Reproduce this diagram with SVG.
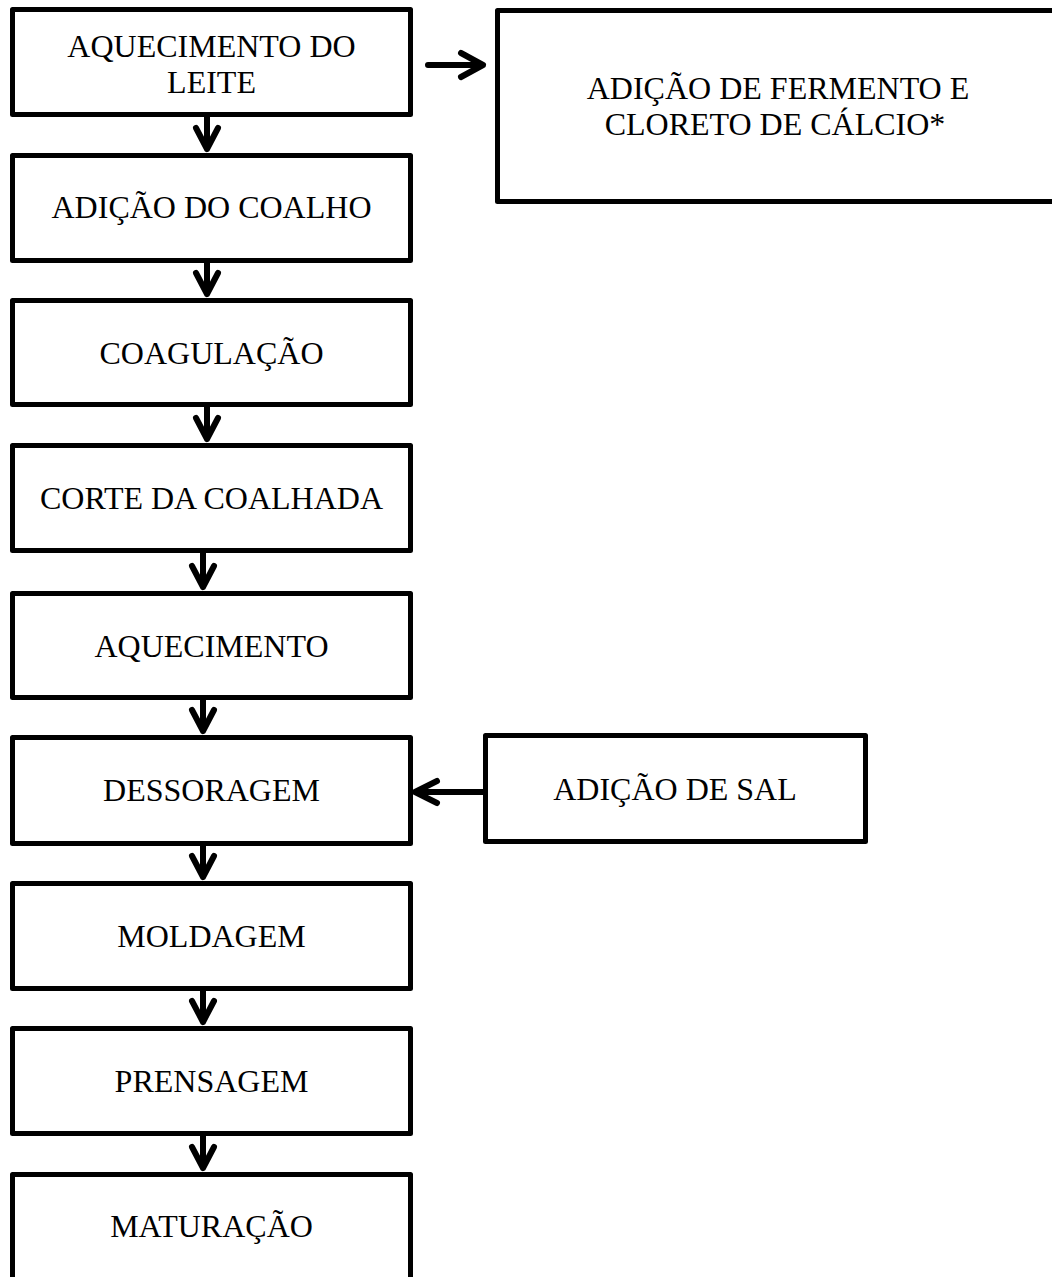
<svg xmlns="http://www.w3.org/2000/svg" width="1052" height="1277" viewBox="0 0 1052 1277">
<style>
.box{fill:#fff;stroke:#000;stroke-width:5;stroke-linejoin:round}
.lbl{font-family:"Liberation Serif","Times New Roman",serif;font-size:32px;fill:#000;text-anchor:middle}
.con path{fill:none;stroke:#000;stroke-width:6;stroke-linecap:round;stroke-linejoin:round}
</style>
<rect width="1052" height="1277" fill="#fff"/>
<g id="n1"><rect class="box" x="12.5" y="9.5" width="398" height="105"/><text class="lbl" x="211.5" y="57">AQUECIMENTO DO</text><text class="lbl" x="211.5" y="93">LEITE</text></g>
<g id="n2"><rect class="box" x="12.5" y="155.5" width="398" height="105"/><text class="lbl" x="211.5" y="218">ADIÇÃO DO COALHO</text></g>
<g id="n3"><rect class="box" x="12.5" y="300.5" width="398" height="104"/><text class="lbl" x="211.5" y="364">COAGULAÇÃO</text></g>
<g id="n4"><rect class="box" x="12.5" y="445.5" width="398" height="105"/><text class="lbl" x="211.5" y="509">CORTE DA COALHADA</text></g>
<g id="n5"><rect class="box" x="12.5" y="593.5" width="398" height="104"/><text class="lbl" x="211.5" y="657">AQUECIMENTO</text></g>
<g id="n6"><rect class="box" x="12.5" y="737.5" width="398" height="106"/><text class="lbl" x="211.5" y="801">DESSORAGEM</text></g>
<g id="n7"><rect class="box" x="12.5" y="883.5" width="398" height="105"/><text class="lbl" x="211.5" y="947">MOLDAGEM</text></g>
<g id="n8"><rect class="box" x="12.5" y="1028.5" width="398" height="105"/><text class="lbl" x="211.5" y="1092">PRENSAGEM</text></g>
<g id="n9"><rect class="box" x="12.5" y="1174.5" width="398" height="105"/><text class="lbl" x="211.5" y="1237">MATURAÇÃO</text></g>
<g id="n10"><rect class="box" x="497.5" y="10.5" width="570" height="191"/><text class="lbl" x="778" y="99">ADIÇÃO DE FERMENTO E</text><text class="lbl" x="775" y="135">CLORETO DE CÁLCIO*</text></g>
<g id="n11"><rect class="box" x="485.5" y="735.5" width="380" height="106"/><text class="lbl" x="675" y="800">ADIÇÃO DE SAL</text></g>
<g id="connectors" class="con">
<path d="M207 117V149M196 128L207 149L218 128"/>
<path d="M207 263V294M196 273L207 294L218 273"/>
<path d="M207 407V439M196 418L207 439L218 418"/>
<path d="M203 553V587M192 566L203 587L214 566"/>
<path d="M203 700V731M192 710L203 731L214 710"/>
<path d="M203 846V877M192 856L203 877L214 856"/>
<path d="M203 991V1022M192 1001L203 1022L214 1001"/>
<path d="M203 1136V1168M192 1147L203 1168L214 1147"/>
<path d="M428 65H483M461 53L483 65L461 77"/>
<path d="M483 792H415M437 781L415 792L437 803"/>
</g>
</svg>
